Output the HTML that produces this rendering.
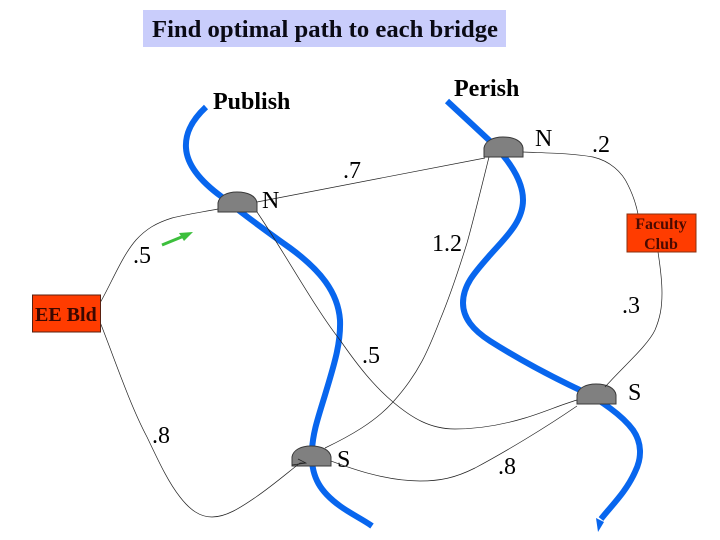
<!DOCTYPE html>
<html>
<head>
<meta charset="utf-8">
<style>
html,body{margin:0;padding:0;background:#fff;width:720px;height:540px;overflow:hidden}
svg{display:block;font-family:"Liberation Serif",serif}
</style>
</head>
<body>
<svg width="720" height="540" viewBox="0 0 720 540" xmlns="http://www.w3.org/2000/svg">
<rect width="720" height="540" fill="#fff"/>
<rect x="143" y="10" width="363" height="37" fill="#c9cdfb"/>
<text x="152" y="37" font-size="24" font-weight="bold" textLength="346" lengthAdjust="spacingAndGlyphs" fill="#0a0a14">Find optimal path to each bridge</text>

<g fill="none" stroke="#0866ee" stroke-width="6">
<path d="M206 107C192 120 185 133 186 148C187 165 200 181 222 197C240 212 262 228 290 248C320 270 338 292 340 320C341 345 333 368 325 395C318 418 313 432 312 450C310 478 322 493 340 506C351 514 362 519 372 526"/>
<path d="M447 101L490 141C505 156 523 178 523 200C523 222 505 238 490 255C475 272 463 285 463 303C463 318 473 330 490 341C520 360 550 376 582 391C600 400 622 415 633 430C642 443 642 458 635 472C626 492 612 505 601 519"/>
</g>
<path d="M596 518L604 522L598 532Z" fill="#0866ee"/>

<g fill="#808080" stroke="#3a3a3a" stroke-width="1">
<path d="M218 212V203C219 196 227 192 237 192C248 192 256 196 257 203V212Z"/>
<path d="M484 157V148C485 141 493 137 503 137C514 137 522 141 523 148V157Z"/>
<path d="M292 466V457C293 450 301 446 311 446C322 446 330 450 331 457V466Z"/>
<path d="M577 404V395C578 388 586 384 596 384C607 384 615 388 616 395V404Z"/>
</g>

<g fill="none" stroke="#222" stroke-width="0.7">
<path d="M100 303C112 282 122 256 136 240C146 229 156 223 172 218C188 214 203 212 218 209"/>
<path d="M100 322C115 360 130 405 147 437C158 460 168 482 180 497C190 510 200 517 212 517C226 517 240 508 256 497C272 486 286 474 300 463L306 463"/>
<path d="M292 465L306 463L298 459"/>
<path d="M257 202L485 158"/>
<path d="M257 212C283 250 316 310 340 340C358 366 374 386 393 402C412 418 430 429 455 429C480 429 505 424 525 418C545 412 560 405 577 400"/>
<path d="M489 157C482 185 474 218 467 243C458 272 450 296 440 320C429 348 420 372 393 402C375 422 350 436 325 448"/>
<path d="M331 461C350 468 385 481 420 481C440 481 455 478 475 468C505 452 545 428 577 406"/>
<path d="M523 152C545 153 570 153 593 157C610 161 622 172 628 185C633 195 636 204 638 214"/>
<path d="M658 252C660 265 662 280 662 293C662 308 660 318 655 330C648 345 625 365 605 387"/>
</g>

<path d="M162 245L184 236" stroke="#3cbf3c" stroke-width="3" fill="none"/>
<path d="M193 232L179 233L184 241Z" fill="#3cbf3c"/>

<rect x="32.5" y="295" width="68" height="37" fill="#ff3c00" stroke="#5a2010" stroke-width="1"/>
<text x="35" y="321" font-size="20" font-weight="bold" fill="#3a0800">EE Bld</text>
<rect x="627" y="214" width="69" height="38" fill="#ff3c00" stroke="#8a3010" stroke-width="1"/>
<text x="661" y="229" font-size="16" font-weight="bold" text-anchor="middle" fill="#4a0a00">Faculty</text>
<text x="661" y="249" font-size="16" font-weight="bold" text-anchor="middle" fill="#4a0a00">Club</text>

<g font-size="24" font-weight="bold" fill="#000">
<text x="213" y="109">Publish</text>
<text x="454" y="96">Perish</text>
</g>
<g font-size="24" fill="#000">
<text x="262" y="208">N</text>
<text x="535" y="146">N</text>
<text x="628" y="400">S</text>
<text x="337" y="467">S</text>
<text x="343" y="178">.7</text>
<text x="592" y="152">.2</text>
<text x="133" y="263">.5</text>
<text x="432" y="251">1.2</text>
<text x="622" y="313">.3</text>
<text x="362" y="363">.5</text>
<text x="152" y="443">.8</text>
<text x="498" y="474">.8</text>
</g>
</svg>
</body>
</html>
